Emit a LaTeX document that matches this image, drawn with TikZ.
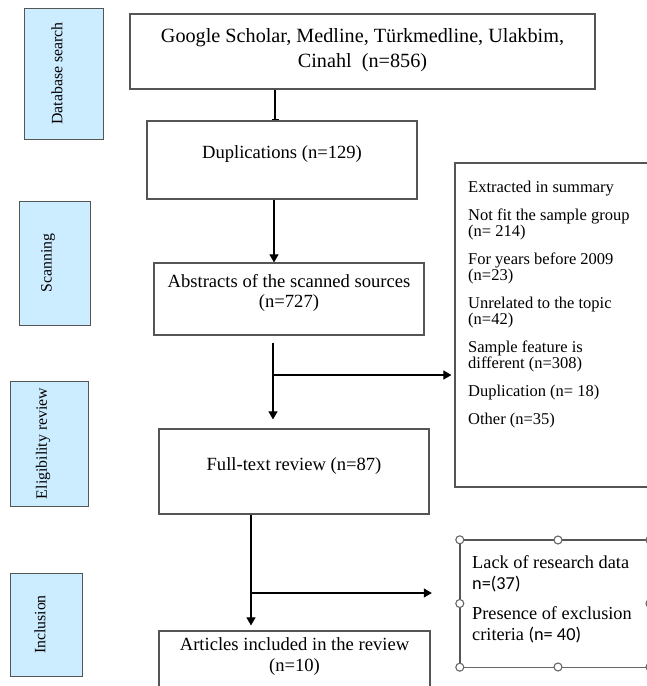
\documentclass[tikz,border=0pt]{standalone}
\usepackage{fontspec}
\setmainfont{Liberation Serif}
\newfontfamily\sansnum{Carlito}
\usetikzlibrary{arrows.meta}
\definecolor{labelfill}{HTML}{CCECFF}
\definecolor{boxline}{HTML}{555555}
\definecolor{handleline}{HTML}{666666}
\begin{document}
\begin{tikzpicture}[x=1pt,y=-1pt,
  phase/.style={draw=boxline, fill=labelfill, line width=1pt, inner sep=0pt},
  phasetxt/.style={rotate=90, font=\fontsize{15.8}{18}\selectfont, inner sep=0pt},
  flowbox/.style={draw=boxline, line width=1.2pt, inner sep=0pt},
  flowtxt/.style={font=\fontsize{18.6}{20.5}\selectfont, align=center, inner sep=0pt},
  toptxt/.style={font=\fontsize{20.2}{25}\selectfont, align=center, inner sep=0pt},
  sidetxt/.style={font=\fontsize{16.5}{16}\selectfont, align=left, inner sep=0pt, anchor=north west},
  side2txt/.style={font=\fontsize{18.3}{21}\selectfont, align=left, inner sep=0pt, anchor=north west},
  link/.style={line width=1.1pt, -{Triangle[width=9pt,length=8pt]}},
  handle/.style={circle, draw=handleline, fill=white, line width=1.1pt, minimum size=8pt, inner sep=0pt}
]
\useasboundingbox (0,0) rectangle (647,686);
\clip (0,0) rectangle (647,686);

% phase labels
\node[phase, minimum width=79pt, minimum height=131pt] (pdb) at (63.5,73.5) {};
\node[phasetxt] (tdb) at (57,73.5) {Database search};
\node[phase, minimum width=71pt, minimum height=124pt] (psc) at (54.5,263) {};
\node[phasetxt] (tsc) at (48,263) {Scanning};
\node[phase, minimum width=78pt, minimum height=125pt] (pel) at (49,443.5) {};
\node[phasetxt] (tel) at (43,443.5) {Eligibility review};
\node[phase, minimum width=72pt, minimum height=103pt] (pin) at (46,624.5) {};
\node[phasetxt] (tin) at (40,624.5) {Inclusion};

% main flow boxes
\node[flowbox, minimum width=465pt, minimum height=75pt] (box1) at (362.5,51.5) {};
\node[toptxt] (t1) at (362.5,50) {Google Scholar, Medline, Türkmedline, Ulakbim,\\Cinahl\ \ (n=856)};
\node[flowbox, minimum width=270pt, minimum height=78pt] (dup) at (282,160) {};
\node[flowtxt] (t2) at (282,154) {Duplications (n=129)};
\node[flowbox, minimum width=270pt, minimum height=72pt] (abs) at (289,299) {};
\node[flowtxt] (t3) at (289,293) {Abstracts of the scanned sources\\(n=727)};
\node[flowbox, minimum width=270pt, minimum height=85pt] (full) at (294,471.5) {};
\node[flowtxt] (t4) at (294,466) {Full-text review (n=87)};
\node[flowbox, minimum width=271pt, minimum height=69pt] (art) at (294.5,665.5) {};
\node[flowtxt] (t5) at (294.5,656.5) {Articles included in the review\\(n=10)};

% side boxes
\node[flowbox, minimum width=245pt, minimum height=324pt] (side1) at (577.5,325) {};
\node[sidetxt] (s1) at (468,181) {Extracted in summary\\[12pt]
Not fit the sample group\\(n= 214)\\[12pt]
For years before 2009\\(n=23)\\[12pt]
Unrelated to the topic\\(n=42)\\[12pt]
Sample feature is\\different (n=308)\\[12pt]
Duplication (n= 18)\\[12pt]
Other (n=35)};

\node[inner sep=0pt, minimum width=240pt, minimum height=127pt] (side2) at (580,603.5) {};
\draw[draw=boxline, line width=1.8pt] (side2.south west) -- (side2.north west) -- (side2.north east);
\draw[draw=handleline, line width=1pt] (side2.south west) -- (side2.south east);
\node[side2txt] (s2) at (472,555.5) {Lack of research data\\{\sansnum n=(37)}\\[9pt]
Presence of exclusion\\criteria {\sansnum (n= 40)}};
\node[handle] (h1) at (side2.north west) {};
\node[handle] (h2) at (558,540) {};
\node[handle] (h3) at (650,540) {};
\node[handle] (h4) at (side2.west) {};
\node[handle] (h5) at (650,603.5) {};
\node[handle] (h6) at (side2.south west) {};
\node[handle] (h7) at (558,667) {};
\node[handle] (h8) at (650,667) {};

% connectors
\draw[line width=1.1pt, -{Bar[width=7pt]}] ([xshift=-7pt]dup.north |- box1.south) -- ([xshift=-7pt]dup.north);
\draw[link] ([xshift=-8pt]dup.south) -- ([xshift=-8pt]dup.south |- abs.north);
\draw[link, shorten >=9pt] ([xshift=-16pt,yshift=-7pt]abs.south) -- ([xshift=-16pt]abs.south |- full.north);
\coordinate (b1) at (272,375);
\draw[link, shorten >=3pt] (b1) -- (b1 -| side1.west);
\draw[link, shorten >=5pt] ([xshift=-43pt]full.south) -- ([xshift=-43pt]full.south |- art.north);
\coordinate (b2) at (251,593);
\draw[link, shorten >=28pt] (b2) -- (b2 -| side2.west);
\end{tikzpicture}
\end{document}
